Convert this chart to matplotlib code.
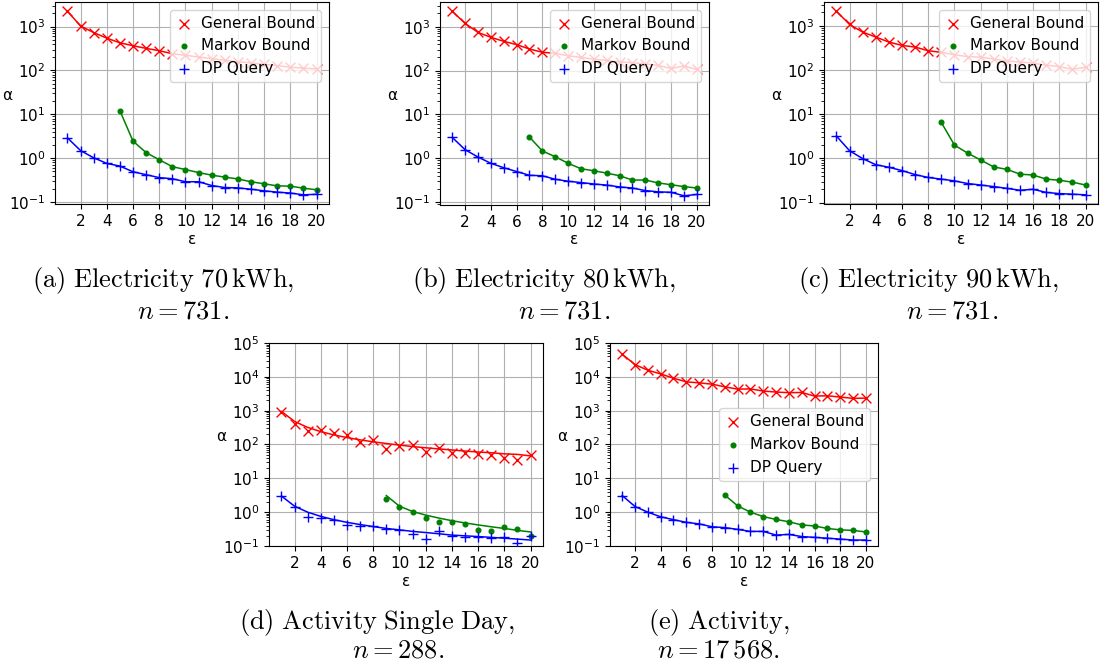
import matplotlib

matplotlib.use('Agg')

import matplotlib.pyplot as plt
import numpy as np

plt.rcParams['mathtext.fontset'] = 'cm'
plt.rcParams['font.size'] = 11

W, H = 1105, 670

eps = np.arange(1, 21)

# (a) Electricity 70 kWh
general_a = [2250, 1030, 733, 545, 428, 367, 319, 283, 241, 222,
             203, 186, 171, 159, 148, 138, 129, 119, 113, 109]
markov_eps_a = eps[4:]
markov_a = [12.1, 2.45, 1.34, 0.92, 0.64, 0.55, 0.47, 0.41, 0.37, 0.336,
            0.29, 0.26, 0.234, 0.23, 0.207, 0.19]
dp_a = [2.9, 1.49, 1.02, 0.76, 0.66, 0.49, 0.42, 0.36, 0.34, 0.29,
        0.29, 0.238, 0.214, 0.21, 0.196, 0.18, 0.168, 0.16, 0.146, 0.15]

# (b) Electricity 80 kWh
general_b = [2250, 1190, 740, 573, 464, 390, 310, 261, 247, 217,
             200, 181, 170, 158, 150, 142, 131, 112, 127, 106]
markov_eps_b = eps[6:]
markov_b = [3.05, 1.47, 1.09, 0.77, 0.58, 0.52, 0.46, 0.4, 0.32, 0.32,
            0.275, 0.25, 0.227, 0.21]
dp_b = [3.0, 1.57, 1.07, 0.77, 0.61, 0.5, 0.41, 0.4, 0.333, 0.3,
        0.28, 0.26, 0.245, 0.223, 0.21, 0.184, 0.172, 0.168, 0.14, 0.15]

# (c) Electricity 90 kWh
general_c = [2140, 1070, 720, 556, 428, 360, 330, 273, 250, 222,
             200, 195, 177, 160, 152, 142, 129, 119, 104, 115]
markov_eps_c = eps[8:]
markov_c = [6.5, 2.0, 1.32, 0.92, 0.64, 0.565, 0.44, 0.42, 0.34, 0.32,
            0.29, 0.25]
dp_c = [3.2, 1.49, 0.99, 0.72, 0.63, 0.53, 0.43, 0.37, 0.34, 0.31,
        0.27, 0.25, 0.23, 0.21, 0.19, 0.2, 0.17, 0.16, 0.155, 0.15]

# (d) Activity single day -- noisy samples plus fitted curves
general_d = [935, 400, 253, 260, 212, 193, 117, 134, 75, 91,
             96, 59, 78, 57, 57, 53, 49, 41, 35, 50]
general_fit_d = [950, 480, 320, 240, 192, 160, 137, 120, 107, 96,
                 87, 80, 74, 69, 64, 60, 57, 53, 51, 46]
markov_eps_d = eps[8:]
markov_d = [2.4, 1.47, 0.99, 0.67, 0.5, 0.5, 0.44, 0.3, 0.28, 0.36,
            0.31, 0.2]
markov_fit_d = [3.1, 1.5, 1.05, 0.82, 0.67, 0.56, 0.48, 0.42, 0.37, 0.33,
                0.29, 0.26]
dp_d = [3.0, 1.4, 0.74, 0.67, 0.59, 0.43, 0.39, 0.38, 0.32, 0.3,
        0.23, 0.166, 0.27, 0.2, 0.18, 0.18, 0.17, 0.18, 0.125, 0.2]
dp_fit_d = [3.0, 1.5, 1.0, 0.75, 0.6, 0.5, 0.43, 0.375, 0.33, 0.3,
            0.27, 0.25, 0.23, 0.21, 0.2, 0.19, 0.18, 0.17, 0.16, 0.15]

# (e) Activity
general_e = [46500, 23000, 15700, 12200, 9100, 7100, 6640, 6070, 5070, 4330,
             4400, 3800, 3550, 3400, 3450, 2700, 2750, 2530, 2310, 2350]
markov_eps_e = eps[8:]
markov_e = [3.2, 1.54, 1.0, 0.74, 0.61, 0.52, 0.42, 0.39, 0.33, 0.3,
            0.29, 0.26]
dp_e = [3.1, 1.47, 1.0, 0.73, 0.6, 0.5, 0.45, 0.37, 0.35, 0.31,
        0.27, 0.27, 0.21, 0.22, 0.19, 0.18, 0.17, 0.16, 0.15, 0.15]

captions = [
    (r'$\mathrm{(a)\ Electricity\ 70\,kWh,}$', r'$n = 731.$'),
    (r'$\mathrm{(b)\ Electricity\ 80\,kWh,}$', r'$n = 731.$'),
    (r'$\mathrm{(c)\ Electricity\ 90\,kWh,}$', r'$n = 731.$'),
    (r'$\mathrm{(d)\ Activity\ Single\ Day,}$', r'$n = 288.$'),
    (r'$\mathrm{(e)\ Activity,}$', r'$n = 17\,568.$'),
]


def add_panel(fig, box):
    left, top, right, bottom = box
    return fig.add_axes([left / W, 1 - bottom / H, (right - left) / W, (bottom - top) / H])


def draw_series(ax, x, y, color, marker, label, fit=None, size=50):
    ax.plot(x, y if fit is None else fit, color=color, lw=1.1)
    ax.scatter(x, y, color=color, marker=marker, s=size, lw=1.0, label=label, zorder=3)


def draw_panel(ax, general, markov_eps, markov, dp, fits=None, legend_loc='upper right', ylim=None):
    fits = fits or {}
    draw_series(ax, eps, general, 'red', 'x', 'General Bound', fits.get('general'))
    draw_series(ax, markov_eps, markov, 'green', '.', 'Markov Bound', fits.get('markov'), size=45)
    draw_series(ax, eps, dp, 'blue', '+', 'DP Query', fits.get('dp'), size=60)
    ax.set_yscale('log')
    if ylim is not None:
        ax.set_ylim(*ylim)
    ax.set_xticks(range(2, 21, 2))
    ax.grid(True, which='major')
    ax.set_axisbelow(True)
    ax.set_xlabel('ε', labelpad=2)
    ax.set_ylabel('α', rotation=0, labelpad=1)
    ax.legend(loc=legend_loc, fontsize=11, handlelength=1.0, handletextpad=0.6)


fig = plt.figure(figsize=(W / 100, H / 100), dpi=100)

ax_a = add_panel(fig, (55, 2, 329, 204))
ax_b = add_panel(fig, (440, 2, 709, 205))
ax_c = add_panel(fig, (824, 2, 1098, 204))
ax_d = add_panel(fig, (269, 343, 543, 546))
ax_e = add_panel(fig, (610, 343, 878, 546))

draw_panel(ax_a, general_a, markov_eps_a, markov_a, dp_a)
draw_panel(ax_b, general_b, markov_eps_b, markov_b, dp_b)
draw_panel(ax_c, general_c, markov_eps_c, markov_c, dp_c)
draw_panel(ax_d, general_d, markov_eps_d, markov_d, dp_d,
           fits={'general': general_fit_d, 'markov': markov_fit_d, 'dp': dp_fit_d},
           ylim=(0.1, 1e5))
ax_d.legend_.remove()
draw_panel(ax_e, general_e, markov_eps_e, markov_e, dp_e,
           legend_loc='center right', ylim=(0.1, 1e5))

# sub-figure captions, two lines each (x centres in pixels)
caption_pos = [(163, 183, 281, 311), (544, 564, 281, 311), (928, 952, 281, 311),
               (377, 398, 622, 651), (719, 718, 622, 651)]
for (line1, line2), (x1, x2, y1, y2) in zip(captions, caption_pos):
    fig.text(x1 / W, 1 - y1 / H, line1, ha='center', va='center', fontsize=19)
    fig.text(x2 / W, 1 - y2 / H, line2, ha='center', va='center', fontsize=19)

fig.savefig('out.png', dpi=100)
